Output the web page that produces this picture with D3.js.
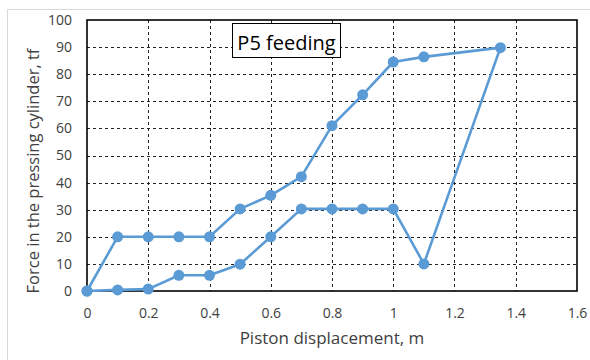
<!DOCTYPE html>
<html>
<head>
<meta charset="utf-8">
<script src="https://cdn.jsdelivr.net/npm/d3@7"></script>
<style>
  html, body { margin: 0; padding: 0; background: #fff; }
  svg { display: block; font-family: "Open Sans", "Liberation Sans", sans-serif; }
</style>
</head>
<body>
<svg id="chart" width="590" height="360"></svg>
<script>
// Piston displacement (m) along the feeding cycle: loading path, then unloading back to zero
const displacement = [0, 0.1, 0.2, 0.3, 0.4, 0.5, 0.6, 0.7, 0.8, 0.9, 1.0, 1.1, 1.35,
                      1.1, 1.0, 0.9, 0.8, 0.7, 0.6, 0.5, 0.4, 0.3, 0.2, 0.1, 0];
// Force in the pressing cylinder (tf) at each displacement step
const force = [0, 20, 20, 20, 20, 30.3, 35.3, 42.2, 61, 72.4, 84.5, 86.4, 89.8,
               10, 30.3, 30.3, 30.3, 30.3, 20, 9.9, 5.8, 5.8, 0.7, 0.4, 0];
const xTicks = [0, 0.2, 0.4, 0.6, 0.8, 1.0, 1.2, 1.4, 1.6];
const yTicks = [0, 10, 20, 30, 40, 50, 60, 70, 80, 90, 100];
const chartTitle = "P5 feeding";
const xTitle = "Piston displacement, m";
const yTitle = "Force in the pressing cylinder, tf";

const points = displacement.map((d, i) => ({ x: d, y: force[i] }));

const svg = d3.select("#chart");
const plot = { left: 87, right: 577, top: 20, bottom: 291 };

const x = d3.scaleLinear().domain([0, 1.6]).range([plot.left, plot.right]);
const y = d3.scaleLinear().domain([0, 100]).range([plot.bottom, plot.top]);

// Outer chart border (light gray)
svg.append("path")
  .attr("d", `M7.5,360 V9.5 H590`)
  .attr("fill", "none")
  .attr("stroke", "#d9d9d9")
  .attr("stroke-width", 1);

// Dashed gridlines
svg.append("g")
  .selectAll("line")
  .data(xTicks.slice(1, -1))
  .join("line")
  .attr("x1", d => Math.round(x(d)) + 0.5)
  .attr("x2", d => Math.round(x(d)) + 0.5)
  .attr("y1", plot.top).attr("y2", plot.bottom)
  .attr("stroke", "#222").attr("stroke-width", 1)
  .attr("stroke-dasharray", "3,3");

svg.append("g")
  .selectAll("line")
  .data(yTicks.slice(1, -1))
  .join("line")
  .attr("y1", d => Math.round(y(d)) + 0.5)
  .attr("y2", d => Math.round(y(d)) + 0.5)
  .attr("x1", plot.left).attr("x2", plot.right)
  .attr("stroke", "#222").attr("stroke-width", 1)
  .attr("stroke-dasharray", "3,3");

// Plot frame
svg.append("rect")
  .attr("x", plot.left).attr("y", plot.top)
  .attr("width", plot.right - plot.left).attr("height", plot.bottom - plot.top)
  .attr("fill", "none").attr("stroke", "#000").attr("stroke-width", 1.6);

// Axes (labels only, the frame draws the lines)
const xAxis = svg.append("g")
  .attr("transform", `translate(0,${plot.bottom})`)
  .call(d3.axisBottom(x).tickValues(xTicks).tickSize(0).tickPadding(17)
    .tickFormat(d => d3.format("~g")(d)));
xAxis.select(".domain").remove();
xAxis.selectAll("text").attr("font-size", 14).attr("fill", "#404040")
  .attr("font-family", "'Open Sans', sans-serif");

const yAxis = svg.append("g")
  .attr("transform", `translate(${plot.left},0)`)
  .call(d3.axisLeft(y).tickValues(yTicks).tickSize(0).tickPadding(15));
yAxis.select(".domain").remove();
yAxis.selectAll("text").attr("font-size", 14).attr("fill", "#404040")
  .attr("font-family", "'Open Sans', sans-serif");

// Series line and markers
const line = d3.line().x(d => x(d.x)).y(d => y(d.y));
svg.append("path")
  .datum(points)
  .attr("d", line)
  .attr("fill", "none")
  .attr("stroke", "#5b9bd5")
  .attr("stroke-width", 2.6)
  .attr("stroke-linejoin", "round");

svg.append("g")
  .selectAll("circle")
  .data(points)
  .join("circle")
  .attr("cx", d => x(d.x))
  .attr("cy", d => y(d.y))
  .attr("r", 5.5)
  .attr("fill", "#5b9bd5");

// Title box
const titleG = svg.append("g");
titleG.append("rect")
  .attr("x", 232.5).attr("y", 23.5)
  .attr("width", 108).attr("height", 34)
  .attr("fill", "#fff").attr("stroke", "#000").attr("stroke-width", 1);
titleG.append("text")
  .attr("x", 286.5).attr("y", 50)
  .attr("text-anchor", "middle")
  .attr("font-size", 20)
  .attr("fill", "#000")
  .text(chartTitle);

// Axis titles
svg.append("text")
  .attr("x", 332).attr("y", 344)
  .attr("text-anchor", "middle")
  .attr("font-size", 17)
  .attr("fill", "#404040")
  .text(xTitle);

svg.append("text")
  .attr("transform", "translate(39,171) rotate(-90)")
  .attr("text-anchor", "middle")
  .attr("font-size", 16.5)
  .attr("fill", "#404040")
  .text(yTitle);
</script>
</body>
</html>
